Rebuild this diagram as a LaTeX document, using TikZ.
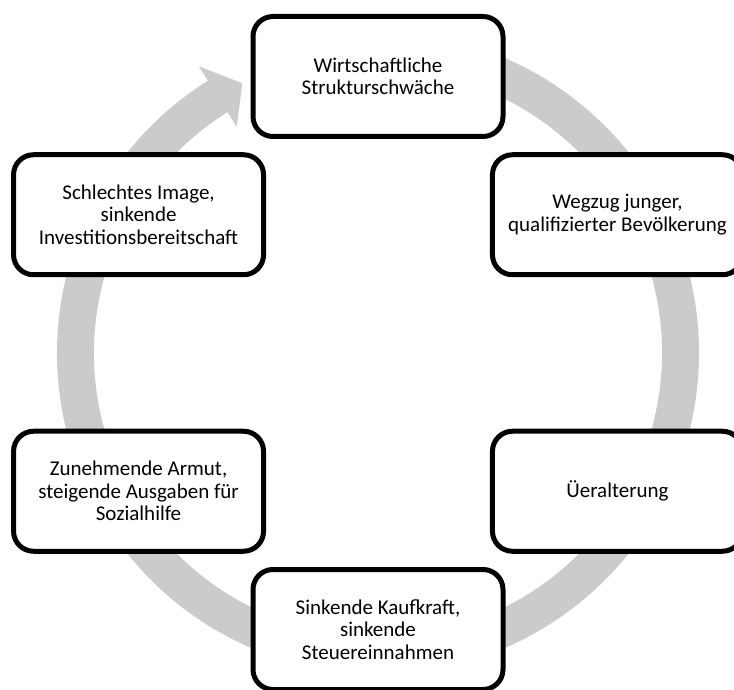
\documentclass[tikz,border=0pt]{standalone}
\usepackage{fontspec}
\setmainfont{Carlito}
\usetikzlibrary{calc}
\definecolor{ringgray}{RGB}{203,203,203}
\begin{document}
\begin{tikzpicture}[
  stage/.style={draw=black, line width=5pt, rounded corners=20pt, fill=white,
    minimum width=250pt, minimum height=120pt, inner sep=0pt, align=center,
    font=\fontsize{21}{22.5}\selectfont},
]
\useasboundingbox (0,0) rectangle (734pt,689pt);
\clip (0,0) rectangle (734pt,689pt);
\coordinate (c) at (378pt,336pt);

% circular arrow behind the six stages
\fill[ringgray]
  ($(c)+(85:321pt)$) arc[start angle=85, end angle=-238, radius=321pt]
  -- ($(c)+(-238:338pt)$)
  -- ($(c)+(-243.3:302pt)$)
  -- ($(c)+(-238:266.5pt)$)
  -- ($(c)+(-238:284pt)$) arc[start angle=-238, end angle=85, radius=284pt]
  -- cycle;

% stages of the cycle
\node[stage] (s1) at ($(c)+(90:276.5pt)$) {Wirtschaftliche\\Strukturschwäche};
\node[stage] (s2) at ($(c)+(30:276.5pt)$) {Wegzug junger,\\qualifizierter Bevölkerung};
\node[stage] (s3) at ($(c)+(-30:276.5pt)$) {Üeralterung};
\node[stage] (s4) at ($(c)+(-90:276.5pt)$) {Sinkende Kaufkraft,\\sinkende\\Steuereinnahmen};
\node[stage] (s5) at ($(c)+(-150:276.5pt)$) {Zunehmende Armut,\\steigende Ausgaben für\\Sozialhilfe};
\node[stage] (s6) at ($(c)+(150:276.5pt)$) {Schlechtes Image,\\sinkende\\Investitionsbereitschaft};
\end{tikzpicture}
\end{document}
